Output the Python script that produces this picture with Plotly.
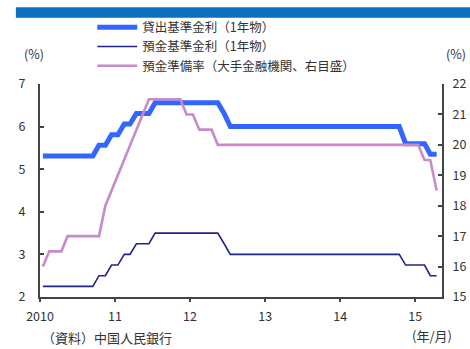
import pandas as pd
import plotly.graph_objects as go

# Monthly observations, Jan 2010 - Apr 2015 (end-of-month levels, %)
months = pd.date_range("2010-01-01", periods=64, freq="MS") + pd.Timedelta(days=14)

lending_1y = (
    [5.31] * 9 + [5.56, 5.56, 5.81]                                   # 2010
    + [5.81, 6.06, 6.06, 6.31, 6.31, 6.31] + [6.56] * 6               # 2011
    + [6.56] * 5 + [6.31] + [6.00] * 6                                # 2012
    + [6.00] * 12                                                     # 2013
    + [6.00] * 10 + [5.60, 5.60]                                      # 2014
    + [5.60, 5.60, 5.35, 5.35]                                        # 2015
)
deposit_1y = (
    [2.25] * 9 + [2.50, 2.50, 2.75]
    + [2.75, 3.00, 3.00, 3.25, 3.25, 3.25] + [3.50] * 6
    + [3.50] * 5 + [3.25] + [3.00] * 6
    + [3.00] * 12
    + [3.00] * 10 + [2.75, 2.75]
    + [2.75, 2.75, 2.50, 2.50]
)
rrr_large = (
    [16.0, 16.5, 16.5, 16.5] + [17.0] * 6 + [18.0, 18.5]
    + [19.0, 19.5, 20.0, 20.5, 21.0] + [21.5] * 6 + [21.0]
    + [21.0, 20.5, 20.5, 20.5] + [20.0] * 8
    + [20.0] * 12
    + [20.0] * 12
    + [20.0, 19.5, 19.5, 18.5]
)

year_ticks = ["2010-01-01", "2011-01-01", "2012-01-01", "2013-01-01", "2014-01-01", "2015-01-01"]
year_labels = ["2010", "11", "12", "13", "14", "15"]

names = ["貸出基準金利（1年物）", "預金基準金利（1年物）", "預金準備率（大手金融機関、右目盛）"]

FONT = "Noto Sans CJK JP"
TXT = "#333333"
AX = "#444444"

fig = go.Figure()
fig.add_trace(go.Scatter(x=months, y=lending_1y, name=names[0], mode="lines",
                         line=dict(color="#3366FF", width=5)))
fig.add_trace(go.Scatter(x=months, y=deposit_1y, name=names[1], mode="lines",
                         line=dict(color="#22228C", width=1.6)))
fig.add_trace(go.Scatter(x=months, y=rrr_large, name=names[2], mode="lines", yaxis="y2",
                         line=dict(color="#C98AC9", width=2.6)))

fig.update_layout(
    width=470, height=349,
    margin=dict(l=40, r=28, t=75, b=52),
    paper_bgcolor="white", plot_bgcolor="white",
    font=dict(family=FONT, size=12, color=TXT),
    showlegend=True,
    legend=dict(x=0.13, y=1.335, xanchor="left", yanchor="top",
                bgcolor="rgba(0,0,0,0)", font=dict(size=12.5, color=TXT),
                tracegroupgap=0, itemwidth=40, traceorder="normal"),
    xaxis=dict(type="date", range=["2010-01-01", "2015-05-11"],
               tickvals=year_ticks, ticktext=year_labels, automargin=False,
               showgrid=False, zeroline=False,
               showline=True, linecolor=AX, linewidth=2,
               ticks="outside", ticklen=3, tickwidth=1.5, tickcolor=AX,
               ticklabelstandoff=4,
               tickfont=dict(size=12.5, color=TXT)),
    yaxis=dict(range=[2, 7], dtick=1, automargin=False,
               showgrid=False, zeroline=False,
               showline=True, linecolor=AX, linewidth=2,
               ticks="inside", ticklen=4, tickwidth=1.5, tickcolor=AX,
               ticklabelstandoff=10,
               tickfont=dict(size=12.5, color=TXT)),
    yaxis2=dict(range=[15, 22], dtick=1, overlaying="y", side="right", automargin=False,
                showgrid=False, zeroline=False,
                showline=True, linecolor=AX, linewidth=2,
                ticks="inside", ticklen=4, tickwidth=1.5, tickcolor=AX,
                ticklabelstandoff=6,
                tickfont=dict(size=12.5, color=TXT)),
    shapes=[dict(type="rect", xref="paper", yref="paper",
                 x0=-0.06, x1=1.1, y0=1.311, y1=1.36,
                 fillcolor="#0A6FBF", line=dict(width=0), layer="above")],
    annotations=[
        dict(text="(%)", xref="paper", yref="paper", x=-0.015, y=1.09,
             xanchor="center", yanchor="bottom", showarrow=False, font=dict(size=12.5, color=TXT)),
        dict(text="(%)", xref="paper", yref="paper", x=1.036, y=1.09,
             xanchor="center", yanchor="bottom", showarrow=False, font=dict(size=12.5, color=TXT)),
        dict(text="(年/月)", xref="paper", yref="paper", x=0.975, y=-0.183,
             xanchor="center", yanchor="middle", showarrow=False, font=dict(size=13, color=TXT)),
        dict(text="（資料）中国人民銀行", xref="paper", yref="paper", x=0.0, y=-0.19,
             xanchor="left", yanchor="middle", showarrow=False, font=dict(size=13, color=TXT)),
    ],
)

fig.write_html("out.html")
